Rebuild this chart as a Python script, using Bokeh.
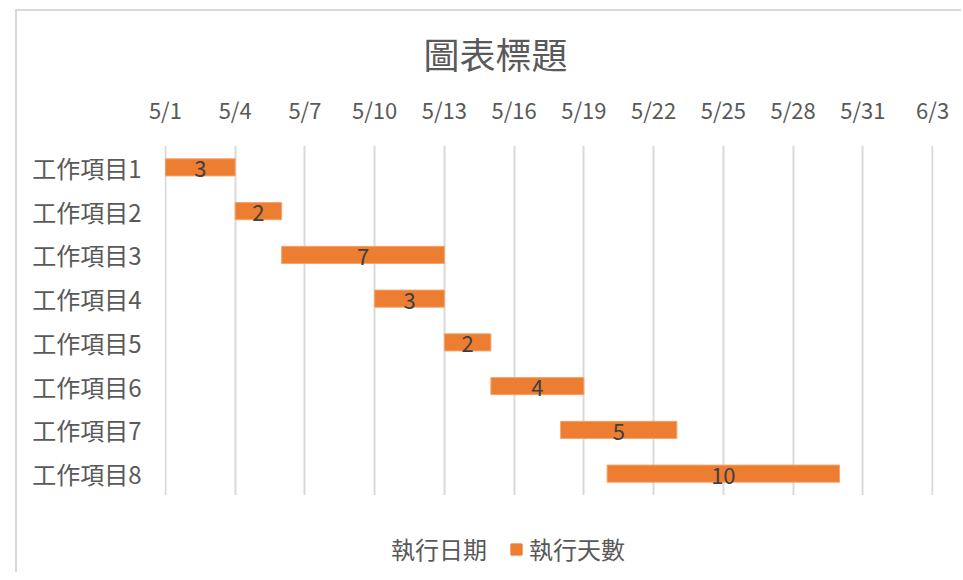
import pandas as pd
from bokeh.plotting import figure
from bokeh.layouts import column
from bokeh.models import Range1d, FactorRange, FixedTicker, Legend, LegendItem, ColumnDataSource
from bokeh.core.properties import value
from bokeh.embed import file_html
from bokeh.resources import INLINE

# ---- data ----
tasks = ["工作項目1", "工作項目2", "工作項目3", "工作項目4",
         "工作項目5", "工作項目6", "工作項目7", "工作項目8"]
start_dates = ["2023-05-01", "2023-05-04", "2023-05-06", "2023-05-10",
               "2023-05-13", "2023-05-15", "2023-05-18", "2023-05-20"]
durations = [3, 2, 7, 3, 2, 4, 5, 10]
tick_labels = ["5/1", "5/4", "5/7", "5/10", "5/13", "5/16",
               "5/19", "5/22", "5/25", "5/28", "5/31", "6/3"]
axis_start = "2023-05-01"
axis_end = "2023-06-03"
title_text = "圖表標題"
series_names = ["執行日期", "執行天數"]

FONT = "Noto Sans CJK TC"
ORANGE = "#ed7d31"
BAR_EDGE = "#f4a36b"
GREY_TXT = "#595959"

base = pd.Timestamp(axis_start)
start_off = [(pd.Timestamp(d) - base).days for d in start_dates]
end_off = [s + d for s, d in zip(start_off, durations)]
mid_off = [s + d / 2 for s, d in zip(start_off, durations)]
axis_end_off = (pd.Timestamp(axis_end) - base).days
tick_pos = [(pd.Timestamp("2023/" + t) - base).days for t in tick_labels]

src = ColumnDataSource(dict(task=tasks, zero=[0] * len(tasks), start=start_off,
                            end=end_off, mid=mid_off,
                            lbl=[str(d) for d in durations]))

p = figure(width=944, height=484, output_backend="svg", toolbar_location=None,
           x_range=Range1d(-0.04, axis_end_off + 0.04),
           y_range=FactorRange(factors=list(reversed(tasks))),
           x_axis_location="above",
           min_border_left=147, min_border_top=134,
           min_border_right=28, min_border_bottom=0)

p.title.text = title_text
p.title.text_font = FONT
p.title.text_font_size = "36px"
p.title.text_font_style = "normal"
p.title.text_color = GREY_TXT
p.title.align = "left"
p.title.offset = 259
p.title.standoff = 22

p.outline_line_color = None
p.ygrid.grid_line_color = None
p.xgrid.grid_line_color = "#d9d9d9"
p.xgrid.grid_line_width = 2

xa = p.xaxis[0]
xa.ticker = FixedTicker(ticks=tick_pos)
xa.major_label_overrides = {tp: lab for tp, lab in zip(tick_pos, tick_labels)}
xa.axis_line_color = None
xa.major_tick_line_color = None
xa.minor_tick_line_color = None
xa.major_label_text_font = FONT
xa.major_label_text_font_size = "22px"
xa.major_label_text_color = GREY_TXT
xa.major_label_standoff = 15

ya = p.yaxis[0]
ya.axis_line_color = None
ya.major_tick_line_color = None
ya.minor_tick_line_color = None
ya.major_label_text_font = FONT
ya.major_label_text_font_size = "24px"
ya.major_label_text_color = GREY_TXT
ya.major_label_standoff = 17

p.hbar(y="task", left="zero", right="start", height=0.39, source=src,
       fill_alpha=0, line_alpha=0)
p.hbar(y="task", left="start", right="end", height=0.39, source=src,
       fill_color=ORANGE, line_color=BAR_EDGE, line_width=1)
p.text(x="mid", y="task", text="lbl", source=src, text_align="center",
       text_baseline="middle", text_font=value(FONT), text_font_size="22px",
       text_color="#404040", y_offset=2)

# legend strip below the chart
p2 = figure(width=944, height=77, output_backend="svg", toolbar_location=None,
            x_range=Range1d(0, 1), y_range=Range1d(0, 1),
            x_axis_location=None, y_axis_location=None, min_border=0)
p2.outline_line_color = None
p2.grid.visible = False
lg_start = p2.hbar(y="task", left="zero", right="start", height=0.39, source=src,
                   fill_alpha=0, line_alpha=0, visible=False)
lg_dur = p2.hbar(y="task", left="start", right="end", height=0.39, source=src,
                 fill_color=ORANGE, line_color=ORANGE, visible=False)
legend = Legend(items=[LegendItem(label=series_names[0], renderers=[lg_start]),
                       LegendItem(label=series_names[1], renderers=[lg_dur])],
                orientation="horizontal", location=(207, 6), padding=0, margin=0,
                border_line_alpha=0, background_fill_alpha=0,
                inactive_fill_alpha=0,
                label_text_font=FONT, label_text_font_size="24px",
                label_text_color=GREY_TXT, glyph_width=14, glyph_height=14,
                label_standoff=6, spacing=22)
p2.add_layout(legend)

layout = column(p, p2, spacing=0,
                styles={"border-left": "2px solid #d9d9d9", "border-top": "2px solid #d9d9d9",
                        "margin-left": "15px", "margin-top": "9px"})

open("out.html", "w").write(file_html(layout, INLINE))
